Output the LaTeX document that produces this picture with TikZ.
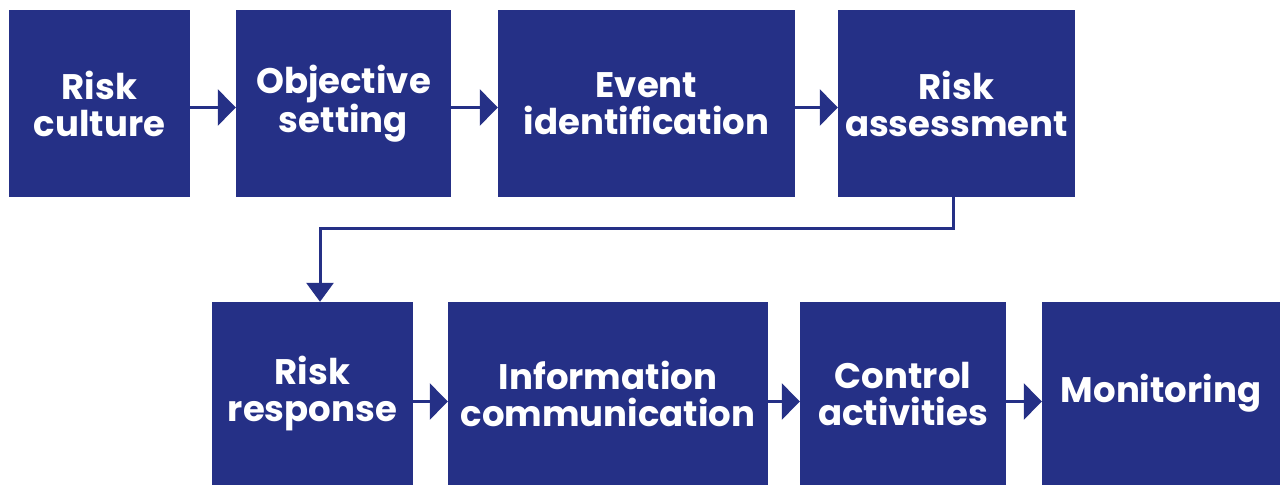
\documentclass[tikz,border=0pt]{standalone}
\usepackage{fontspec}
\setmainfont{Poppins}
\usetikzlibrary{arrows.meta}
\definecolor{riskblue}{RGB}{37,48,134}
\begin{document}
\begin{tikzpicture}
[x=1pt,y=-1pt,
  stepbox/.style={shape=rectangle,fill=riskblue,text=white,inner sep=0pt,
    align=center,font=\fontsize{35.5}{37}\selectfont\bfseries},%
  flow/.style={draw=riskblue,line width=3pt,-{Triangle[length=18pt,width=36pt]}},
  downflow/.style={draw=riskblue,line width=3pt,-{Triangle[length=19pt,width=27pt]}}]
\useasboundingbox (0,0) rectangle (1282,485);
% top row
\node (culture) at (99.5,103.5) [stepbox,minimum width=181pt,minimum height=187pt] {Risk\\culture};
\node (objective) at (343.5,103.5) [stepbox,minimum width=215pt,minimum height=187pt] {Objective\\setting};
\node (event) at (646.5,103.5) [stepbox,minimum width=297pt,minimum height=187pt] {Event\\identification};
\node (assess) at (956.5,103.5) [stepbox,minimum width=237pt,minimum height=187pt] {Risk\\assessment};
% bottom row
\node (response) at (312.5,393.5) [stepbox,minimum width=201pt,minimum height=183pt] {Risk\\response};
\node (info) at (608,393.5) [stepbox,minimum width=320pt,minimum height=183pt] {Information\\communication};
\node (control) at (903,393.5) [stepbox,minimum width=206pt,minimum height=183pt] {Control\\activities};
\node (monitor) at (1161,393.5) [stepbox,minimum width=238pt,minimum height=183pt] {Monitoring};
% connectors
\path
([yshift=-4pt]culture.east) edge[flow] ([yshift=-4pt]objective.west)
([yshift=-4pt]objective.east) edge[flow] ([yshift=-4pt]event.west)
([yshift=-4pt]event.east) edge[flow] ([yshift=-4pt]assess.west)
([yshift=-8pt]response.east) edge[flow] ([yshift=-8pt]info.west)
([yshift=-8pt]info.east) edge[flow] ([yshift=-8pt]control.west)
([yshift=-8pt]control.east) edge[flow] ([yshift=-8pt]monitor.west);
\draw[downflow] ([xshift=-3.5pt]assess.south) -- ++(0,31) -| ([xshift=7.5pt]response.north);
\end{tikzpicture}
\end{document}
